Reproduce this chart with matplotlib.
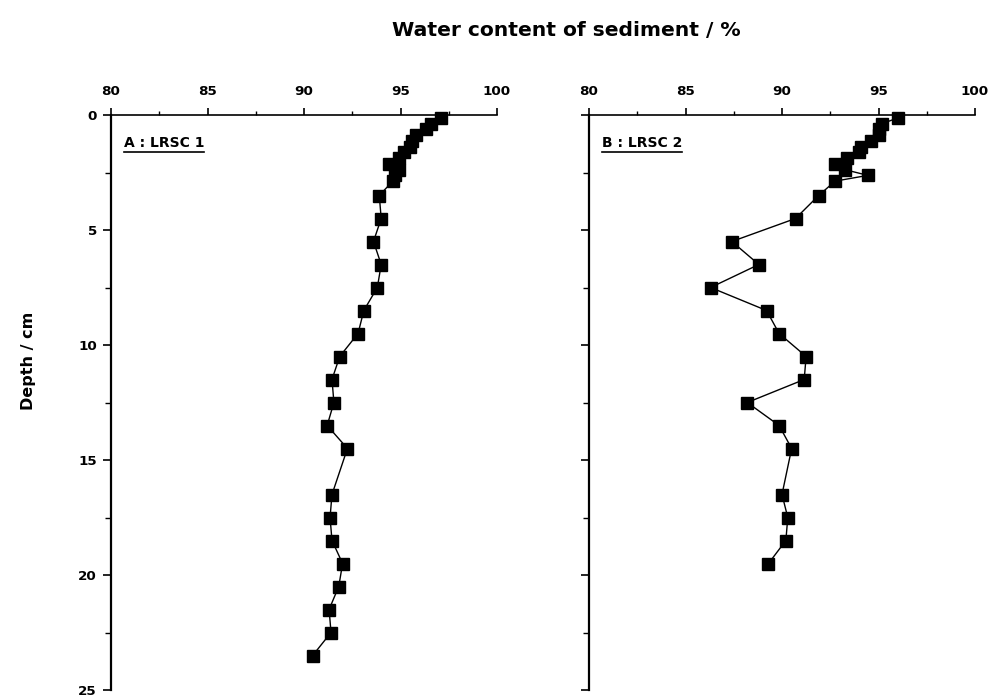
import matplotlib
matplotlib.use("Agg")
import matplotlib.pyplot as plt
from matplotlib.ticker import MultipleLocator

plt.rcParams['font.family'] = ['DejaVu Sans']

# core A : LRSC 1
depth_a = [0.125, 0.375, 0.625, 0.875, 1.125, 1.375, 1.625, 1.875, 2.125, 2.375, 2.625, 2.875,
           3.5, 4.5, 5.5, 6.5, 7.5, 8.5, 9.5, 10.5, 11.5, 12.5, 13.5, 14.5,
           16.5, 17.5, 18.5, 19.5, 20.5, 21.5, 22.5, 23.5]
water_a = [97.1, 96.6, 96.3, 95.8, 95.6, 95.5, 95.2, 94.9, 94.4, 94.9, 94.7, 94.6,
           93.9, 94.0, 93.6, 94.0, 93.8, 93.1, 92.8, 91.85, 91.45, 91.55, 91.2, 92.25,
           91.45, 91.35, 91.45, 92.0, 91.8, 91.3, 91.4, 90.45]

# core B : LRSC 2
depth_b = [0.125, 0.375, 0.625, 0.875, 1.125, 1.375, 1.625, 1.875, 2.125, 2.375, 2.625, 2.875,
           3.5, 4.5, 5.5, 6.5, 7.5, 8.5, 9.5, 10.5, 11.5, 12.5, 13.5, 14.5,
           16.5, 17.5, 18.5, 19.5]
water_b = [96.0, 95.2, 95.05, 95.0, 94.6, 94.1, 94.0, 93.35, 92.75, 93.25, 94.45, 92.75,
           91.9, 90.7, 87.4, 88.8, 86.3, 89.2, 89.85, 91.25, 91.15, 88.2, 89.85, 90.5,
           90.0, 90.3, 90.2, 89.3]

x_ticks = [80, 85, 90, 95, 100]
y_ticks = [0, 5, 10, 15, 20, 25]

fig = plt.figure(figsize=(9.94, 6.98), dpi=100)
ax_a = fig.add_axes([111/994, 1-690/698, 386/994, 575/698])
ax_b = fig.add_axes([589/994, 1-690/698, 386/994, 575/698])

panels = [(ax_a, depth_a, water_a, "A : LRSC 1", True),
          (ax_b, depth_b, water_b, "B : LRSC 2", False)]

for ax, d, w, label, show_y in panels:
    ax.plot(w, d, color='black', lw=1.0, marker='s', ms=8, mfc='black',
            mec='black', clip_on=False, zorder=3)
    ax.set_xlim(80, 100)
    ax.set_ylim(25, 0)
    ax.xaxis.tick_top()
    ax.set_xticks(x_ticks)
    ax.xaxis.set_minor_locator(MultipleLocator(2.5))
    ax.set_yticks(y_ticks)
    ax.yaxis.set_minor_locator(MultipleLocator(2.5))
    ax.spines['right'].set_visible(False)
    ax.spines['bottom'].set_visible(False)
    ax.spines['left'].set_linewidth(1.6)
    ax.spines['top'].set_linewidth(1.2)
    ax.tick_params(axis='x', which='major', direction='out', length=5, width=1.2,
                   labelsize=9.7, pad=7)
    ax.tick_params(axis='x', which='minor', direction='out', length=3, width=1.0)
    ax.tick_params(axis='y', which='major', direction='out', length=6, width=1.2,
                   labelsize=9.7, labelleft=show_y, pad=4)
    ax.tick_params(axis='y', which='minor', direction='out', length=4, width=1.0)
    for t in ax.get_xticklabels() + ax.get_yticklabels():
        t.set_fontweight('bold')
    ax.text(0.033, 0.951, label, transform=ax.transAxes, fontsize=10,
            fontweight='bold', ha='left', va='center')

fig.text(566/994, 1-30/698, "Water content of sediment / %", ha='center',
         va='center', fontsize=14.6, fontweight='bold')
fig.text(28/994, 1-361/698, "Depth / cm", ha='center', va='center',
         rotation=90, fontsize=11.5, fontweight='bold')

# underline the panel labels
fig.canvas.draw()
renderer = fig.canvas.get_renderer()
for ax in (ax_a, ax_b):
    txt = ax.texts[0]
    bb = txt.get_window_extent(renderer).transformed(ax.transAxes.inverted())
    ax.plot([bb.x0, bb.x1], [bb.y0 - 0.003, bb.y0 - 0.003], transform=ax.transAxes,
            color='black', lw=1.2, clip_on=False)

fig.savefig("out.png", dpi=100)
